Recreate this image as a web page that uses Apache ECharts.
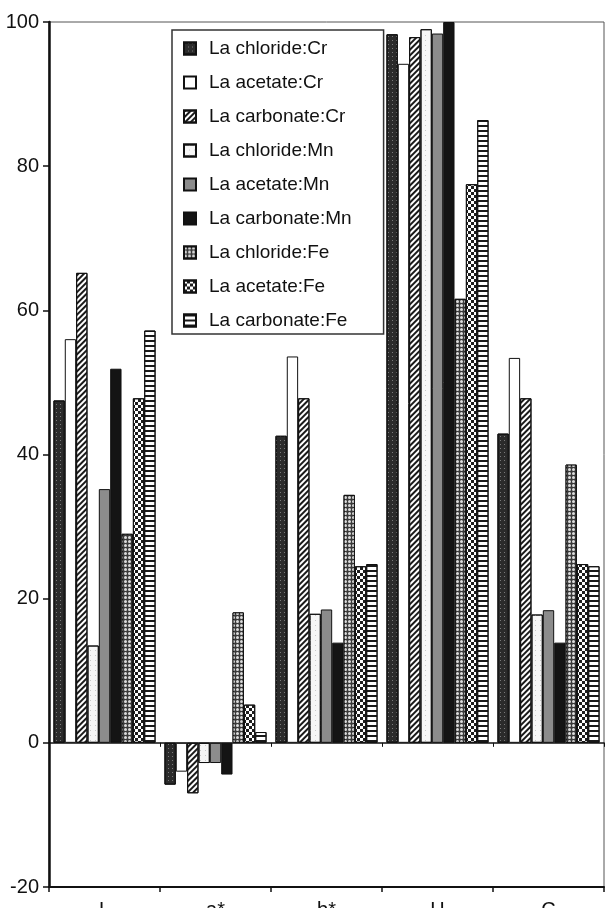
<!DOCTYPE html>
<html><head><meta charset="utf-8">
<script src="https://cdn.jsdelivr.net/npm/echarts@6/dist/echarts.min.js"></script>
<style>html,body{margin:0;padding:0;background:#fff}#c{width:613px;height:908px}</style>
</head><body><div id="c"></div>
<script>
const categories = ['L', 'a*', 'b*', 'H', 'C'];
const seriesNames = ['La chloride:Cr','La acetate:Cr','La carbonate:Cr','La chloride:Mn','La acetate:Mn','La carbonate:Mn','La chloride:Fe','La acetate:Fe','La carbonate:Fe'];
const laChlorideCr  = [47.5, -5.8, 42.6, 98.3, 42.9];
const laAcetateCr   = [56.0, -4.0, 53.6, 94.2, 53.4];
const laCarbonateCr = [65.2, -7.0, 47.8, 97.9, 47.8];
const laChlorideMn  = [13.5, -2.8, 17.9, 99.0, 17.8];
const laAcetateMn   = [35.2, -2.8, 18.5, 98.4, 18.4];
const laCarbonateMn = [51.9, -4.4, 13.9, 100.0, 13.9];
const laChlorideFe  = [29.0, 18.1, 34.4, 61.6, 38.6];
const laAcetateFe   = [47.8, 5.3, 24.5, 77.5, 24.8];
const laCarbonateFe = [57.2, 1.5, 24.8, 86.4, 24.5];
const yTicks = [-20, 0, 20, 40, 60, 80, 100];

const values = [laChlorideCr, laAcetateCr, laCarbonateCr, laChlorideMn, laAcetateMn, laCarbonateMn, laChlorideFe, laAcetateFe, laCarbonateFe];

const styles = [
  {color:'#2b2b2b', decal:{symbol:'rect', symbolSize:1, color:'#7a7a7a', dashArrayX:[1,3], dashArrayY:[1,3]}},
  {color:'#ffffff'},
  {color:'#ffffff', decal:{symbol:'rect', symbolSize:1, color:'#1a1a1a', dashArrayX:[1,0], dashArrayY:[2,2], rotation:-Math.PI/4}},
  {color:'#f6f6f6', decal:{symbol:'rect', symbolSize:1, color:'#c8c8c8', dashArrayX:[1,4], dashArrayY:[1,4]}},
  {color:'#8c8c8c'},
  {color:'#141414'},
  {color:'#3a3a3a', decal:{symbol:'circle', symbolSize:1, color:'#dcdcdc', dashArrayX:[3,1], dashArrayY:[3,1]}},
  {color:'#ffffff', decal:{symbol:'rect', symbolSize:1, color:'#1e1e1e', dashArrayX:[[3,3],[0,3,3,0]], dashArrayY:[3,0]}},
  {color:'#ffffff', decal:{symbol:'rect', symbolSize:1, color:'#1a1a1a', dashArrayX:[1,0], dashArrayY:[1.5,2.5]}}
];

const chart = echarts.init(document.getElementById('c'), null, {renderer:'canvas'});
const series = seriesNames.map((n, i) => ({
  name: n, type: 'bar', xAxisIndex: 0, yAxisIndex: 0,
  data: values[i],
  barGap: '0%', barCategoryGap: '8%',
  itemStyle: Object.assign({borderColor:'#111', borderWidth:1}, styles[i]),
  emphasis: {disabled: true},
  animation: false
}));

chart.setOption({
  animation: false,
  backgroundColor: '#ffffff',
  textStyle: {fontFamily: 'Liberation Sans, Arial, sans-serif'},
  grid: {left: 49, right: 9, top: 22, bottom: 21, show: true, borderColor: '#555', borderWidth: 1,
         containLabel: false, outerBoundsMode: 'none'},
  legend: {
    orient: 'vertical', left: 172, top: 30,
    data: seriesNames,
    icon: 'rect',
    itemWidth: 12, itemHeight: 12, itemGap: 15,
    padding: [9, 32, 4, 11],
    backgroundColor: '#fff', borderColor: '#333', borderWidth: 1.5,
    selectedMode: false,
    textStyle: {fontSize: 19, color: '#111', padding: [0, 0, 0, 8], fontFamily: 'Liberation Sans, Arial, sans-serif'}
  },
  xAxis: [
    {type: 'category', data: categories, position: 'bottom',
     axisLine: {onZero: false, lineStyle: {color: '#111', width: 2}},
     axisTick: {show: true, length: 5, lineStyle: {color: '#111', width: 1.5}},
     axisLabel: {fontSize: 20, color: '#111', margin: 13},
     splitLine: {show: false}},
    {type: 'category', data: categories, position: 'bottom',
     axisLine: {onZero: true, lineStyle: {color: '#111', width: 1.5}},
     axisTick: {show: true, length: 4, lineStyle: {color: '#111', width: 1}},
     axisLabel: {show: false}, splitLine: {show: false}}
  ],
  yAxis: {
    type: 'value', min: yTicks[0], max: yTicks[yTicks.length - 1], interval: 20,
    axisLine: {show: true, lineStyle: {color: '#111', width: 2.5}},
    axisTick: {show: true, length: 6, lineStyle: {color: '#111', width: 1.5}},
    axisLabel: {fontSize: 20, color: '#111', margin: 10},
    splitLine: {show: false}
  },
  series: series
});
</script></body></html>
